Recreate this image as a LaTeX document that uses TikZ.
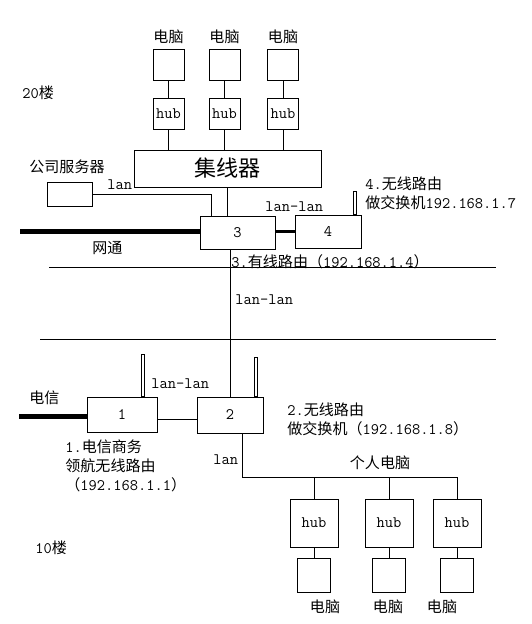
\documentclass[tikz,border=0pt]{standalone}
\usepackage{fontspec}
\newfontfamily\cjk[Scale=0.94]{Noto Sans CJK SC}
\newcommand{\zh}[1]{{\cjk #1}}
\usetikzlibrary{positioning}

\begin{document}
\begin{tikzpicture}[x=1pt,y=-1pt,line width=0.8pt,
    font=\ttfamily\fontsize{16}{19}\selectfont,
    box/.style={draw,line width=0.8pt,inner sep=0pt},
    pcbox/.style={box,minimum width=31pt,minimum height=31pt},
    hubbox/.style={box,minimum width=31pt,minimum height=31pt},
    bighub/.style={box,minimum width=48pt,minimum height=48pt},
    bigpc/.style={box,minimum width=33pt,minimum height=34pt},
    router/.style={box,minimum width=66pt,minimum height=34pt},
    lbl/.style={inner sep=0pt,anchor=west},
    trunk/.style={line width=5pt},
    antenna/.style={line width=0.6pt}]
  \useasboundingbox (0,0) rectangle (532,624);

  % 20th floor
  \node[lbl] (f20) at (22,93) {20\zh{楼}};
  \node[box,minimum width=187pt,minimum height=37pt,
        font=\fontsize{23.5}{26}\selectfont\cjk] (conc) at (227.5,168.5) {集线器};
  \node[hubbox] (hub1) at (168.5,113.5) {hub};
  \node[hubbox] (hub2) at (224.5,113.5) {hub};
  \node[hubbox] (hub3) at (283,113.5) {hub};
  \node[pcbox,above=17pt of hub1] (pc1) {};
  \node[pcbox,above=17pt of hub2] (pc2) {};
  \node[pcbox,above=17pt of hub3] (pc3) {};
  \node[inner sep=0pt,above=5pt of pc1] (pcl1) {\zh{电脑}};
  \node[inner sep=0pt,above=5pt of pc2] (pcl2) {\zh{电脑}};
  \node[inner sep=0pt,above=5pt of pc3] (pcl3) {\zh{电脑}};
  \draw (hub1) -- (pc1);
  \draw (hub2) -- (pc2);
  \draw (hub3) -- (pc3);
  \draw (hub1.south) -- (hub1.south |- conc.north);
  \draw (hub2.south) -- (hub2.south |- conc.north);
  \draw (hub3.south) -- (hub3.south |- conc.north);

  \node[box,minimum width=45pt,minimum height=24pt] (srv) at (69.5,194) {};
  \node[lbl] (srvl) at (29,167) {\zh{公司服务器}};
  \node[lbl] (lan1) at (107,185) {lan};

  \node[router,minimum width=75pt,minimum height=33pt] (r3) at (237.5,232.5) {3};
  \node[router,minimum height=33pt] (r4) at (328,231.5) {4};
  \draw (srv.east) -| ([xshift=-26.5pt]r3.north);
  \draw (conc.south) -- (conc.south |- r3.north);
  \draw[line width=2.5pt] (r4.west -| r3.east) -- (r4.west);
  \draw[antenna] ([xshift=25.5pt]r4.north) rectangle ++(3,-23);
  \coordinate (wt) at (20,231);
  \draw[trunk] (wt) -- (wt -| r3.west);
  \node[lbl] (wtl) at (92,248) {\zh{网通}};
  \node[lbl] (ll1) at (265,207) {lan-lan};
  \node[lbl,align=left] (r4l) at (365,193) {4.\zh{无线路由}\\\zh{做交换机}192.168.1.7};
  \node[lbl] (r3l) at (231,262) {3.\zh{有线路由（}192.168.1.4\zh{）}};

  % floors
  \draw (49,267) -- (496,267);
  \draw (40,339) -- (496,339);
  \node[lbl] (ll2) at (235,300) {lan-lan};

  % 10th floor
  \node[router,minimum width=70pt,minimum height=35pt] (r1) at (122,414.5) {1};
  \node[router,minimum height=36pt] (r2) at (230,415) {2};
  \draw (r2.north |- r3.south) -- (r2.north);
  \draw ([yshift=-5pt]r1.east) -- ([yshift=-5pt]r1.east -| r2.west);
  \draw[antenna] ([xshift=19.5pt]r1.north) rectangle ++(3,-42);
  \draw[antenna] ([xshift=24.5pt]r2.north) rectangle ++(3,-39);
  \coordinate (dx) at (19,416);
  \draw[trunk] (dx) -- (dx -| r1.west);
  \node[lbl] (dxl) at (29,398) {\zh{电信}};
  \node[lbl] (ll3) at (151,384) {lan-lan};
  \node[lbl,align=left] (r2l) at (287,419.5) {2.\zh{无线路由}\\\zh{做交换机（}192.168.1.8\zh{）}};
  \node[lbl,align=left] (r1l) at (65,465.5) {1.\zh{电信商务}\\\zh{领航无线路由}\\\zh{（}192.168.1.1\zh{）}};
  \node[lbl] (lan2) at (213,460) {lan};
  \node[inner sep=0pt] (perl) at (380,463) {\zh{个人电脑}};
  \node[lbl] (f10) at (35,548) {10\zh{楼}};

  \node[bighub] (ha) at (314,523) {hub};
  \node[bighub] (hb) at (389,523) {hub};
  \node[bighub] (hc) at (457,523) {hub};
  \node[bigpc,below=11pt of ha] (pa) {};
  \node[bigpc,below=11pt of hb] (pb) {};
  \node[bigpc,below=11pt of hc] (pc) {};
  \draw (ha) -- (pa);
  \draw (hb) -- (pb);
  \draw (hc) -- (pc);
  \coordinate (bus) at (0,477);
  \draw ([xshift=12pt]r2.south) |- (hc.north |- bus) -- (hc.north);
  \draw (ha.north |- bus) -- (ha.north);
  \draw (hb.north |- bus) -- (hb.north);
  \node[inner sep=0pt] (pal) at (325,607) {\zh{电脑}};
  \node[inner sep=0pt] (pbl) at (388,607) {\zh{电脑}};
  \node[inner sep=0pt] (pcl) at (442,607) {\zh{电脑}};
\end{tikzpicture}
\end{document}
